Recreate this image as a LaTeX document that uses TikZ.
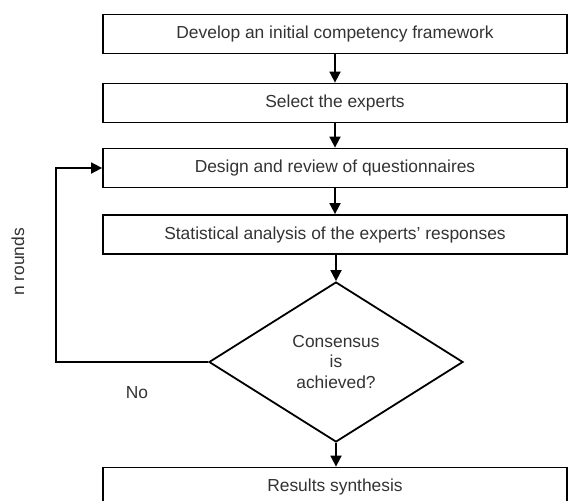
\documentclass[tikz,border=0pt]{standalone}
\usepackage{fontspec}
\setmainfont{Liberation Sans}
\usetikzlibrary{shapes.geometric,arrows.meta}
\begin{document}
\begin{tikzpicture}[x=1pt,y=-1pt,
  every node/.style={font=\fontsize{17.4}{20}\selectfont, text=black!80},
  stepbox/.style={draw, line width=1.8pt, minimum width=464pt, minimum height=39pt, inner sep=0pt},
  decision/.style={draw, diamond, line width=1.8pt, minimum width=254pt, minimum height=160pt, inner sep=0pt, align=center, font=\fontsize{17.4}{20.5}\selectfont},
  flow/.style={line width=1.8pt, -{Triangle[length=11pt,width=11pt]}}]
  \useasboundingbox (0,0) rectangle (568,501);
  \begin{scope}
  \clip (0,0) rectangle (568,501);
  \node[stepbox] (dev) at (335,34) {Develop an initial competency framework};
  \node[stepbox] (sel) at (335,103) {Select the experts};
  \node[stepbox] (des) at (335,168) {Design and review of questionnaires};
  \node[stepbox] (sta) at (335,234.5) {Statistical analysis of the experts' responses};
  \node[decision] (con) at (336,362) {Consensus\\is\\achieved?};
  \node[stepbox] (res) at (335,487) {Results synthesis};
  \coordinate (lb) at (56,362);
  \coordinate (lt) at (56,168);
  \draw[flow] (dev) -- (sel);
  \draw[flow] (sel) -- (des);
  \draw[flow] (des) -- (sta);
  \draw[flow] (sta.south -| con.north) -- (con.north);
  \draw[flow] (con.south) -- (res.north -| con.south);
  \draw[flow] (con.west) -- (lb) -- (lt) -- (des.west);
  \node[rotate=90] (nr) at (18,262) {n rounds};
  \node (no) at (137,393) {No};
  \end{scope}
\end{tikzpicture}
\end{document}
